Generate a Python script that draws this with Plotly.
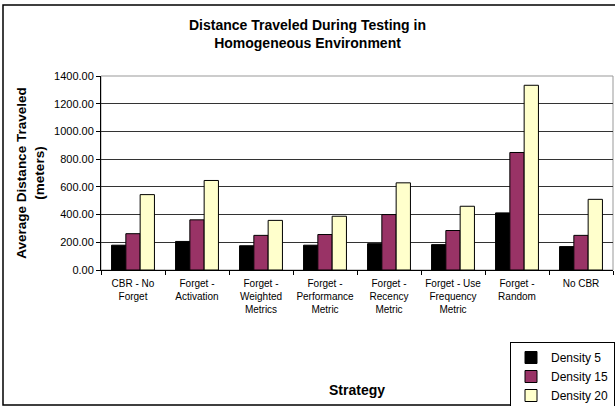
import plotly.graph_objects as go

categories = ["CBR - No<br>Forget", "Forget -<br>Activation", "Forget -<br>Weighted<br>Metrics",
              "Forget -<br>Performance<br>Metric", "Forget -<br>Recency<br>Metric",
              "Forget - Use<br>Frequency<br>Metric", "Forget -<br>Random", "No CBR"]
density5 = [179, 206, 175, 179, 190, 183, 412, 169]
density15 = [262, 362, 250, 256, 400, 285, 848, 250]
density20 = [544, 646, 358, 388, 629, 460, 1333, 510]
series_names = ["Density 5", "Density 15", "Density 20"]
colors = ["#000000", "#993366", "#FFFFCC"]
yticks = [0, 200, 400, 600, 800, 1000, 1200, 1400]

W, H = 615, 406
L, R, T, B = 101, 2, 76, 136

fig = go.Figure()
for name, vals, c in zip(series_names, [density5, density15, density20], colors):
    fig.add_trace(go.Bar(x=categories, y=vals, name=name, marker=dict(color=c, line=dict(color="#000000", width=1))))

pw = W - L - R
ph = H - T - B
def px_x(p):
    return (p - L) / pw
def px_y(p):
    return (H - B - p) / ph

fig.update_layout(
    width=W, height=H,
    margin=dict(l=L, r=R, t=T, b=B, autoexpand=False),
    paper_bgcolor="white", plot_bgcolor="white",
    font=dict(family="Liberation Sans, Arial", color="#000000"),
    title=dict(text="<b>Distance Traveled During Testing in<br>Homogeneous Environment</b>",
               x=0.5, xanchor="center", y=1 - 30 / H, yanchor="middle",
               font=dict(size=14)),
    barmode="group", bargap=0.33, bargroupgap=0,
    showlegend=True,
    legend=dict(xref="container", yref="container", x=510 / W, y=1 - 342 / H,
                xanchor="left", yanchor="top",
                bordercolor="#000000", borderwidth=1, bgcolor="white",
                font=dict(size=12), tracegroupgap=0, itemwidth=30),
    xaxis=dict(showline=True, linecolor="#000000", linewidth=1, ticks="outside",
               tickson="boundaries", ticklen=4, tickcolor="#000000",
               tickfont=dict(size=10), tickangle=0, automargin=False,
               ticklabelstandoff=4,
               title=dict(text="<b>Strategy</b>", font=dict(size=14), standoff=71)),
    yaxis=dict(range=[0, 1400], tickvals=yticks, tickformat=".2f", showline=True,
               linecolor="#000000", linewidth=1, ticks="outside", ticklen=4,
               tickcolor="#000000", tickfont=dict(size=11), automargin=False,
               showgrid=True, gridcolor="#333333", gridwidth=1, zeroline=False,
               title=dict(text="<b>Average Distance Traveled<br>(meters)</b>",
                          font=dict(size=13.5), standoff=6)),
    shapes=[
        dict(type="rect", xref="paper", yref="paper", x0=0, x1=1, y0=0, y1=1,
             line=dict(color="#999999", width=1), layer="below"),
        dict(type="rect", xref="paper", yref="paper", x0=px_x(3), x1=px_x(620),
             y0=px_y(405), y1=px_y(5), line=dict(color="#000000", width=1.5)),
    ],
)
fig.write_html("out.html", config={"displayModeBar": False},
               post_script="document.body.style.margin='0';document.body.style.overflow='hidden';")
